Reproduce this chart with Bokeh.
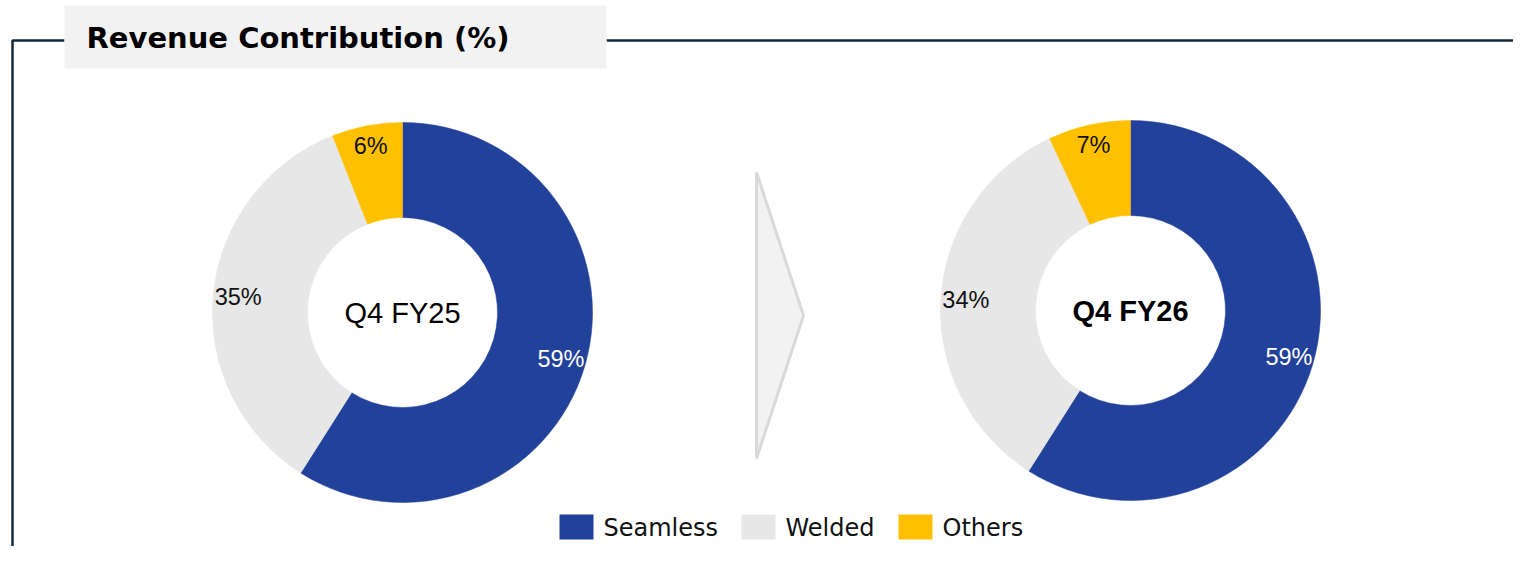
import math
from bokeh.plotting import figure
from bokeh.models import Range1d
from bokeh.core.properties import value
from bokeh.embed import file_html
from bokeh.resources import INLINE

# ---- data ----
categories = ["Seamless", "Welded", "Others"]
colors = ["#22419A", "#E7E7E7", "#FFC000"]
label_colors = ["#FFFFFF", "#111111", "#111111"]
q4_fy25 = [59, 35, 6]
q4_fy26 = [59, 34, 7]
periods = ["Q4 FY25", "Q4 FY26"]
chart_title = "Revenue Contribution (%)"

# ---- canvas: 1 data unit == 1 screen pixel (y measured upward from page bottom) ----
W, H = 1513, 546
PAGE_H = 562


def Y(sy):
    return PAGE_H - sy


p = figure(width=W, height=H, x_range=Range1d(0, W),
           y_range=Range1d(PAGE_H - H, PAGE_H),
           output_backend="svg", toolbar_location=None, min_border=0,
           x_axis_location=None, y_axis_location=None)
p.grid.visible = False
p.outline_line_color = None
p.background_fill_color = "white"
p.border_fill_color = "white"

LABEL_FONT = value("Liberation Sans")
UI_FONT = value("DejaVu Sans")

# ---- frame lines and title box ----
p.multi_line(xs=[[12, 12, 64], [606, 1540]], ys=[[Y(570), Y(40), Y(40)], [Y(40), Y(40)]],
             line_color="#13293D", line_width=2.5)
p.quad(left=64, right=606, top=Y(5), bottom=Y(68), fill_color="#F2F2F2", line_color=None)
p.text(x=[86], y=[Y(37)], text=[chart_title], text_align="left", text_baseline="middle",
       text_font=UI_FONT, text_font_style="bold", text_font_size="29px", text_color="#000000")

# ---- donuts ----
R_OUT, R_IN, R_LBL = 190, 95, 165


def donut(cx, cy, vals, center_label, bold):
    total = float(sum(vals))
    cum = 0.0
    starts, ends, lx, ly, txt = [], [], [], [], []
    for v in vals:
        a0 = math.pi / 2 - 2 * math.pi * cum / total
        a1 = math.pi / 2 - 2 * math.pi * (cum + v) / total
        mid = (a0 + a1) / 2
        starts.append(a0)
        ends.append(a1)
        r = R_LBL + (5 if v < 10 else 0)
        lx.append(cx + r * math.cos(mid))
        ly.append(cy + r * math.sin(mid))
        txt.append(f"{v}%")
        cum += v
    p.annular_wedge(x=cx, y=cy, inner_radius=R_IN, outer_radius=R_OUT,
                    start_angle=starts, end_angle=ends, direction="clock",
                    fill_color=colors, line_color=colors, line_width=0.5)
    p.text(x=lx, y=ly, text=txt, text_align="center", text_baseline="middle",
           text_font=LABEL_FONT, text_font_size="23.5px", text_color=label_colors)
    p.text(x=[cx], y=[cy], text=[center_label], text_align="center", text_baseline="middle",
           text_font=LABEL_FONT, text_font_size="29px",
           text_font_style="bold" if bold else "normal", text_color="#000000")


donut(402, Y(312), q4_fy25, periods[0], False)
donut(1130, Y(310), q4_fy26, periods[1], True)

# ---- arrow chevron ----
p.patch(x=[756, 803, 756], y=[Y(172), Y(315), Y(458)], fill_color="#F2F2F2",
        line_color="#D9D9D9", line_width=3)

# ---- legend ----
leg_x = [559, 741, 898]
p.quad(left=leg_x, right=[x + 34 for x in leg_x], top=[Y(514)] * 3, bottom=[Y(539)] * 3,
       fill_color=colors, line_color=None)
p.text(x=[x + 44 for x in leg_x], y=[Y(527)] * 3, text=categories, text_align="left",
       text_baseline="middle", text_font=UI_FONT, text_font_size="24px", text_color="#111111")

open("out.html", "w").write(file_html(p, INLINE))
